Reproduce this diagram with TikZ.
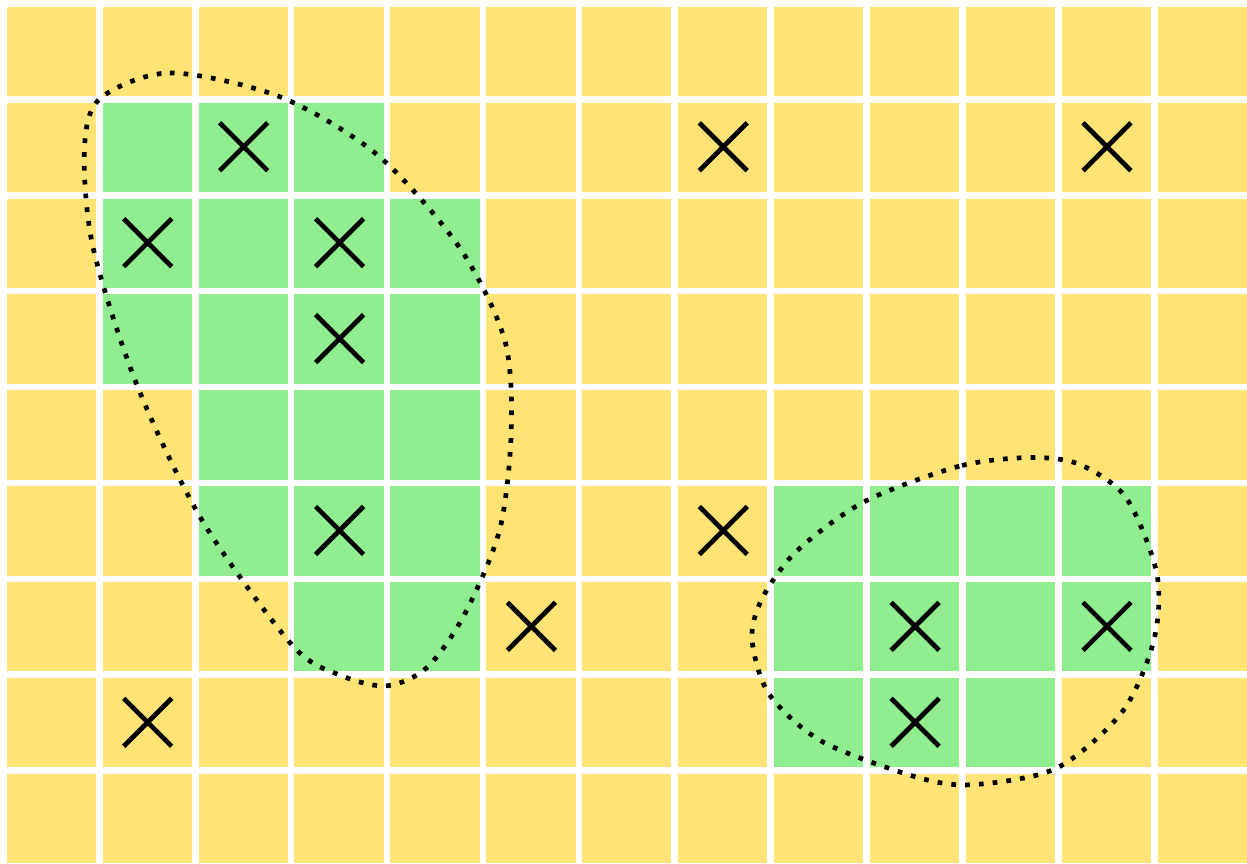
\documentclass[tikz,border=0pt]{standalone}
\definecolor{cellyellow}{RGB}{255,228,117}
\definecolor{cellgreen}{RGB}{144,238,144}
\begin{document}
\begin{tikzpicture}[
   cell/.style={fill=cellyellow},
   hit/.style={fill=cellgreen},
   xmark/.style={line width=1.4pt},
   cluster/.style={line width=1.4pt, dash pattern=on 1.4pt off 2.7pt}
]
   % Background
   \fill[white] (0,0) rectangle (13,9);
   \useasboundingbox (0,0) rectangle (13,9);

   % Draw yellow cells
   \foreach \c in {0,...,12}
     \foreach \r in {0,...,8}
       \fill[cell] (\c+0.07,8-\r) rectangle (\c+1,9-\r-0.07);

   % Draw green cells
   \foreach \c/\r in {1/1,2/1,3/1, 1/2,2/2,3/2,4/2, 1/3,2/3,3/3,4/3,
                      2/4,3/4,4/4, 2/5,3/5,4/5, 3/6,4/6,
                      8/5,9/5,10/5,11/5, 8/6,9/6,10/6,11/6, 8/7,9/7,10/7}
       \fill[hit] (\c+0.07,8-\r) rectangle (\c+1,9-\r-0.07);

   % Draw crosses
   \foreach \c/\r in {2/1,7/1,11/1, 1/2,3/2, 3/3, 3/5,7/5, 5/6,9/6,11/6, 1/7,9/7}
       \draw[xmark] (\c+0.54,8.47-\r) ++(-0.25,-0.25) -- ++(0.5,0.5)
                    ++(-0.5,0) -- ++(0.5,-0.5);

   % Draw clusters
   \draw[cluster] plot[smooth cycle] coordinates {
       (1.04,7.97) (1.77,8.24) (2.92,7.99) (3.94,7.38) (4.79,6.42)
       (5.26,5.46) (5.33,4.52) (5.21,3.48) (4.84,2.59) (4.45,2.04)
       (4.03,1.85) (3.55,1.96) (3.05,2.27) (2.11,3.57) (1.43,4.98)
       (0.97,6.42) (0.88,7.44)};
   \draw[cluster] plot[smooth cycle] coordinates {
       (10.73,4.23) (10.00,4.14) (9.01,3.77) (8.30,3.25) (7.94,2.75)
       (7.84,2.33) (8.02,1.76) (8.57,1.27) (9.55,0.90) (10.14,0.82)
       (11.01,0.99) (11.70,1.58) (12.03,2.33) (12.06,3.02) (11.74,3.81)
       (11.25,4.16)};
\end{tikzpicture}
\end{document}
